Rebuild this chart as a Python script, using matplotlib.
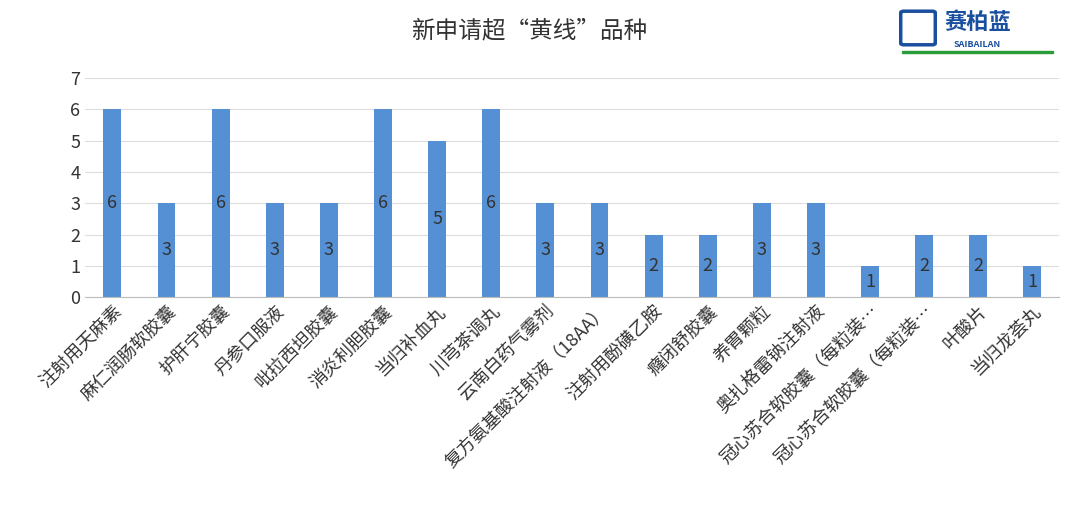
import matplotlib
matplotlib.use("Agg")
import matplotlib.pyplot as plt
from matplotlib.patches import FancyBboxPatch, Rectangle

plt.rcParams["font.family"] = "Noto Sans CJK SC"

categories = ["注射用天麻素", "麻仁润肠软胶囊", "护肝宁胶囊", "丹参口服液", "吡拉西坦胶囊",
              "消炎利胆胶囊", "当归补血丸", "川芎茶调丸", "云南白药气雾剂", "复方氨基酸注射液（18AA）",
              "注射用酚磺乙胺", "癃闭舒胶囊", "养胃颗粒", "奥扎格雷钠注射液", "冠心苏合软胶囊（每粒装…",
              "冠心苏合软胶囊（每粒装…", "叶酸片", "当归龙荟丸"]
values = [6, 3, 6, 3, 3, 6, 5, 6, 3, 3, 2, 2, 3, 3, 1, 2, 2, 1]
yticks = [0, 1, 2, 3, 4, 5, 6, 7]

fig = plt.figure(figsize=(10.8, 5.09), dpi=100)
fig.patch.set_facecolor("white")
ax = fig.add_axes([0.079, 0.416, 0.902, 0.431])
x = range(len(values))
ax.bar(x, values, width=0.33, color="#5590d4")
for xi, v in zip(x, values):
    ax.text(xi, v / 2, str(v), ha="center", va="center", fontsize=13, color="#333333")
ax.set_ylim(0, 7)
ax.set_xlim(-0.5, len(values) - 0.5)
ax.set_yticks(yticks)
ax.tick_params(axis="y", length=0, labelsize=13, colors="#333333")
ax.tick_params(axis="x", length=0, labelsize=13, colors="#333333")
ax.grid(axis="y", color="#dddddd", linewidth=0.8)
ax.set_axisbelow(True)
for s in ["top", "right", "left"]:
    ax.spines[s].set_visible(False)
ax.spines["bottom"].set_color("#bbbbbb")
ax.set_xticks(list(x))
ax.set_xticklabels(categories, rotation=45, ha="right", rotation_mode="anchor")

fig.text(0.49, 0.94, "新申请超“黄线”品种", ha="center", va="center", fontsize=17, color="#333333")
# logo
fig.text(0.905, 0.955, "赛柏蓝", ha="center", va="center", fontsize=16, color="#1a4fa0", fontweight="bold")
fig.text(0.905, 0.912, "SAIBAILAN", ha="center", va="center", fontsize=6.5, color="#1a4fa0", fontweight="bold")
fig.patches.append(FancyBboxPatch((0.837, 0.915), 0.026, 0.06, boxstyle="round,pad=0.003",
                                  transform=fig.transFigure, facecolor="none", edgecolor="#1a4fa0", linewidth=2.5))
fig.patches.append(Rectangle((0.835, 0.895), 0.14, 0.005, transform=fig.transFigure, color="#2a9d3a"))
fig.savefig("out.png", dpi=100)
